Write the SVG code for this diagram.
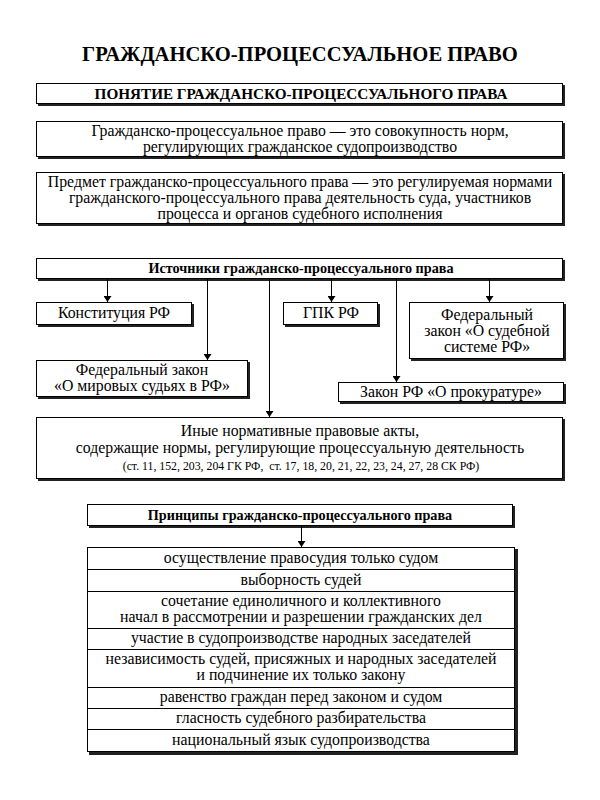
<svg xmlns="http://www.w3.org/2000/svg" width="600" height="800" viewBox="0 0 600 800" font-family="'Liberation Serif', 'Times New Roman', 'DejaVu Serif', serif">
<defs>
<marker id="ah" markerWidth="6" markerHeight="8" refX="6" refY="4" orient="auto" markerUnits="userSpaceOnUse">
<path d="M0,0 L6,4 L0,8 Z" fill="#000"/>
</marker>
</defs>
<style>
.sh{fill:#222}
.bx{fill:#fff;stroke:#000;stroke-width:1}
text{font-family:'Liberation Serif','Times New Roman','DejaVu Serif',serif;fill:#000;text-anchor:middle}
.t{font-size:15.8px}
.b{font-size:14.2px;font-weight:bold}
.bc{font-size:15.2px;font-weight:bold}
.s{font-size:11.8px}
.ttl{font-size:20.6px;font-weight:bold}
.ln{stroke:#000;stroke-width:1;fill:none}
.rl{stroke:#000;stroke-width:1}
</style>
<rect width="600" height="800" fill="#fff"/>
<text class="ttl" x="300" y="61">ГРАЖДАНСКО-ПРОЦЕССУАЛЬНОЕ ПРАВО</text>

<g id="concept">
<rect class="sh" x="38" y="85" width="527" height="21"/>
<rect class="bx" x="36.5" y="83.5" width="526" height="20"/>
<text class="bc" x="301" y="99">ПОНЯТИЕ ГРАЖДАНСКО-ПРОЦЕССУАЛЬНОГО ПРАВА</text>
</g>
<g id="definition">
<rect class="sh" x="38" y="123" width="527" height="36"/>
<rect class="bx" x="36.5" y="121.5" width="526" height="35"/>
<text class="t" x="300" y="136">Гражданско-процессуальное право — это совокупность норм,</text>
<text class="t" x="300" y="152">регулирующих гражданское судопроизводство</text>
</g>
<g id="subject">
<rect class="sh" x="38" y="174" width="527" height="52"/>
<rect class="bx" x="36.5" y="172.5" width="526" height="51"/>
<text class="t" x="300" y="187">Предмет гражданско-процессуального права — это регулируемая нормами</text>
<text class="t" x="300" y="203">гражданского-процессуального права деятельность суда, участников</text>
<text class="t" x="300" y="219">процесса и органов судебного исполнения</text>
</g>

<g id="sources">
<rect class="sh" x="38" y="260" width="527" height="21"/>
<rect class="bx" x="36.5" y="258.5" width="526" height="20"/>
<text class="b" x="301" y="273">Источники гражданско-процессуального права</text>
</g>
<g id="constitution">
<rect class="sh" x="38" y="304" width="156" height="23"/>
<rect class="bx" x="36.5" y="302.5" width="155" height="22"/>
<text class="t" x="114" y="318">Конституция РФ</text>
</g>
<g id="gpk">
<rect class="sh" x="285" y="304" width="95" height="23"/>
<rect class="bx" x="283.5" y="302.5" width="94" height="22"/>
<text class="t" x="331" y="318">ГПК РФ</text>
</g>
<g id="judicial-system">
<rect class="sh" x="411" y="304" width="155" height="57"/>
<rect class="bx" x="409.5" y="302.5" width="154" height="56"/>
<text class="t" x="487" y="320">Федеральный</text>
<text class="t" x="487" y="336">закон «О судебной</text>
<text class="t" x="487" y="352">системе РФ»</text>
</g>
<g id="magistrates">
<rect class="sh" x="38" y="362" width="212" height="37"/>
<rect class="bx" x="36.5" y="360.5" width="211" height="36"/>
<text class="t" x="142" y="375">Федеральный закон</text>
<text class="t" x="142" y="391">«О мировых судьях в РФ»</text>
</g>
<g id="prosecution">
<rect class="sh" x="340" y="384" width="226" height="20"/>
<rect class="bx" x="338.5" y="382.5" width="225" height="19"/>
<text class="t" x="451" y="397">Закон РФ «О прокуратуре»</text>
</g>
<g id="other-acts">
<rect class="sh" x="38" y="419" width="527" height="62"/>
<rect class="bx" x="36.5" y="417.5" width="526" height="61"/>
<text class="t" x="300" y="436">Иные нормативные правовые акты,</text>
<text class="t" x="300" y="453">содержащие нормы, регулирующие процессуальную деятельность</text>
<text class="s" x="301" y="470" xml:space="preserve">(ст. 11, 152, 203, 204 ГК РФ,  ст. 17, 18, 20, 21, 22, 23, 24, 27, 28 СК РФ)</text>
</g>

<g id="principles">
<rect class="sh" x="89" y="506" width="426" height="22"/>
<rect class="bx" x="87.5" y="504.5" width="425" height="21"/>
<text class="b" x="300" y="520">Принципы гражданско-процессуального права</text>
</g>
<g id="principles-list">
<rect class="sh" x="89" y="549" width="429" height="206"/>
<rect class="bx" x="87.5" y="547.5" width="427" height="204"/>
<line class="rl" x1="88" y1="569.5" x2="514" y2="569.5"/>
<line class="rl" x1="88" y1="591.5" x2="514" y2="591.5"/>
<line class="rl" x1="88" y1="628.5" x2="514" y2="628.5"/>
<line class="rl" x1="88" y1="649.5" x2="514" y2="649.5"/>
<line class="rl" x1="88" y1="687.5" x2="514" y2="687.5"/>
<line class="rl" x1="88" y1="708.5" x2="514" y2="708.5"/>
<line class="rl" x1="88" y1="729.5" x2="514" y2="729.5"/>
<text class="t" x="301" y="563">осуществление правосудия только судом</text>
<text class="t" x="301" y="585">выборность судей</text>
<text class="t" x="301" y="606">сочетание единоличного и коллективного</text>
<text class="t" x="301" y="622">начал в рассмотрении и разрешении гражданских дел</text>
<text class="t" x="301" y="643">участие в судопроизводстве народных заседателей</text>
<text class="t" x="301" y="664">независимость судей, присяжных и народных заседателей</text>
<text class="t" x="301" y="680">и подчинение их только закону</text>
<text class="t" x="301" y="702">равенство граждан перед законом и судом</text>
<text class="t" x="301" y="723">гласность судебного разбирательства</text>
<text class="t" x="301" y="745">национальный язык судопроизводства</text>
</g>

<g id="connectors">
<line class="ln" x1="107.5" y1="279" x2="107.5" y2="302" marker-end="url(#ah)"/>
<line class="ln" x1="207.5" y1="279" x2="207.5" y2="360" marker-end="url(#ah)"/>
<line class="ln" x1="269.5" y1="279" x2="269.5" y2="417" marker-end="url(#ah)"/>
<line class="ln" x1="331.5" y1="279" x2="331.5" y2="302" marker-end="url(#ah)"/>
<line class="ln" x1="396.5" y1="279" x2="396.5" y2="382" marker-end="url(#ah)"/>
<line class="ln" x1="489.5" y1="279" x2="489.5" y2="302" marker-end="url(#ah)"/>
<line class="ln" x1="301.5" y1="526" x2="301.5" y2="547" marker-end="url(#ah)"/>
</g>
</svg>
